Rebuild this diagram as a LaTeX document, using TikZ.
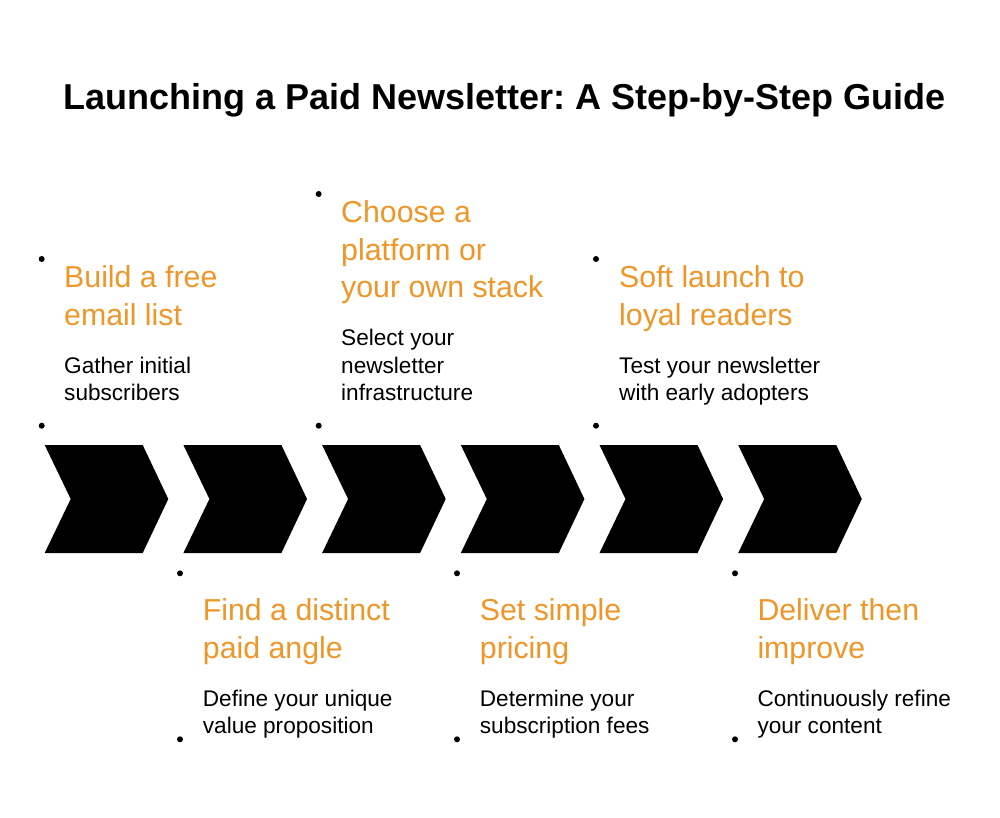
\documentclass[tikz,border=0pt]{standalone}
\usepackage{fontspec}
\setmainfont{Liberation Sans}
\definecolor{accent}{HTML}{F09628}
\frenchspacing
\begin{document}
\begin{tikzpicture}[x=1pt,y=-1pt,
  chev/.style={fill=black,draw=none},
  dotmark/.style={circle,fill=black,inner sep=0pt,minimum size=6pt},
  headline/.style={anchor=base west,inner sep=0pt,text=accent,font=\fontsize{30.3}{36}\selectfont},
  bodyline/.style={anchor=base west,inner sep=0pt,text=black,font=\fontsize{22.6}{27}\selectfont},
  titletext/.style={anchor=base,inner sep=0pt,font=\fontsize{36}{42}\selectfont\bfseries}]
\useasboundingbox[fill=white] (0,0) rectangle (1000,818);
\node[titletext] (title) at (504.4,109.3) {Launching a Paid Newsletter: A Step-by-Step Guide};
% chevrons
\foreach \i in {0,...,5}{
  \pgfmathsetmacro{\xo}{44.7+138.7*\i}
  \fill[chev] (\xo,445) -- (\xo+98,445) -- (\xo+123.6,499) -- (\xo+98,553) -- (\xo,553) -- (\xo+26,499) -- cycle;
}
% dots
\node[dotmark] (d1t) at (41.7,259) {};
\node[dotmark] (d1b) at (41.7,425.7) {};
\node[dotmark] (d3t) at (318.7,194) {};
\node[dotmark] (d3b) at (318.7,425.7) {};
\node[dotmark] (d5t) at (596,259) {};
\node[dotmark] (d5b) at (596,425.7) {};
\node[dotmark] (d2t) at (180,573.3) {};
\node[dotmark] (d2b) at (180,739.3) {};
\node[dotmark] (d4t) at (457,573.3) {};
\node[dotmark] (d4b) at (457,739.3) {};
\node[dotmark] (d6t) at (735,573.3) {};
\node[dotmark] (d6b) at (735,739.3) {};
% column 1
\node[headline] (h1a) at (64,287.3) {Build a free};
\node[headline] (h1b) at (64,325) {email list};
\node[bodyline] (b1a) at (64,373.3) {Gather initial};
\node[bodyline] (b1b) at (64,400.7) {subscribers};
% column 3
\node[headline] (h3a) at (341,222.7) {Choose a};
\node[headline] (h3b) at (341,260) {platform or};
\node[headline] (h3c) at (341,297.3) {your own stack};
\node[bodyline] (b3a) at (341,345.7) {Select your};
\node[bodyline] (b3b) at (341,373.3) {newsletter};
\node[bodyline] (b3c) at (341,400.7) {infrastructure};
% column 5
\node[headline] (h5a) at (619,287.3) {Soft launch to};
\node[headline] (h5b) at (619,325) {loyal readers};
\node[bodyline] (b5a) at (619,373.3) {Test your newsletter};
\node[bodyline] (b5b) at (619,400.7) {with early adopters};
% column 2
\node[headline] (h2a) at (202.7,620.5) {Find a distinct};
\node[headline] (h2b) at (202.7,658) {paid angle};
\node[bodyline] (b2a) at (202.7,706.5) {Define your unique};
\node[bodyline] (b2b) at (202.7,733.5) {value proposition};
% column 4
\node[headline] (h4a) at (479.7,620.5) {Set simple};
\node[headline] (h4b) at (479.7,658) {pricing};
\node[bodyline] (b4a) at (479.7,706.5) {Determine your};
\node[bodyline] (b4b) at (479.7,733.5) {subscription fees};
% column 6
\node[headline] (h6a) at (757.3,620.5) {Deliver then};
\node[headline] (h6b) at (757.3,658) {improve};
\node[bodyline] (b6a) at (757.3,706.5) {Continuously refine};
\node[bodyline] (b6b) at (757.3,733.5) {your content};
\end{tikzpicture}
\end{document}
